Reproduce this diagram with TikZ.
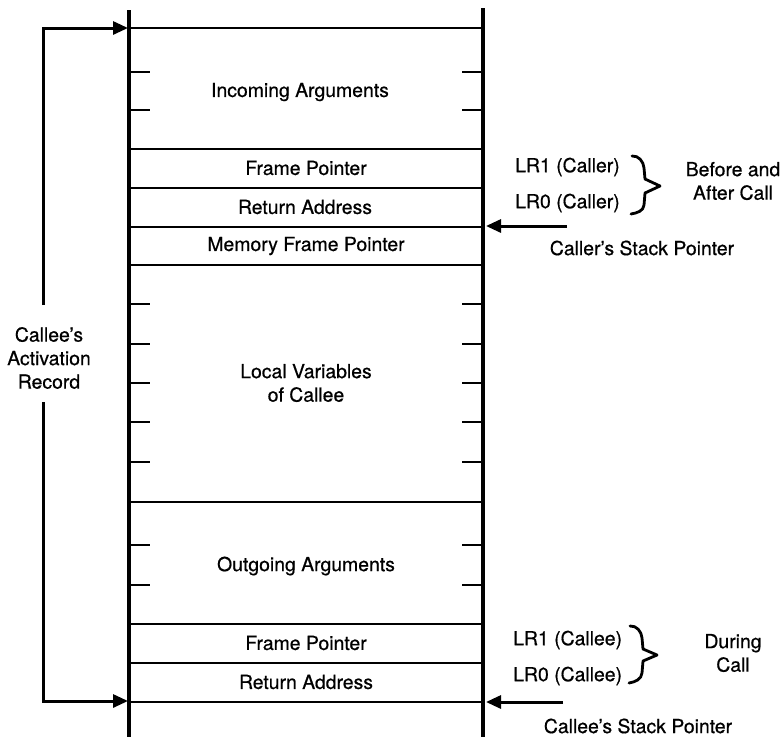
\documentclass[tikz,border=0pt]{standalone}
\usepackage{fontspec}
\setmainfont{TeX Gyre Heros}[FakeBold=0.6]
\usetikzlibrary{arrows.meta}
\begin{document}
\begin{tikzpicture}[x=1pt,y=-1pt,
  wall/.style={line width=3.2pt},
  sep/.style={line width=2.9pt},
  tickmark/.style={line width=2.9pt},
  lbl/.style={font=\fontsize{19.4}{23.5}\selectfont, inner sep=0pt, align=center},
  lblL/.style={font=\fontsize{19.4}{23.5}\selectfont, inner sep=0pt, anchor=west},
  ptr/.style={line width=3pt, -{Triangle[length=15pt,width=13pt]}},
  bracepath/.style={line width=2.8pt, line join=round, line cap=round},
]
\useasboundingbox (0,0) rectangle (783,737);

% stack walls
\coordinate (wallLtop) at (129,10);
\coordinate (wallLbot) at (129,737);
\coordinate (wallRtop) at (483,8);
\coordinate (wallRbot) at (483,737);
\draw[wall] (wallLtop) -- (wallLbot);
\draw[wall] (wallRtop) -- (wallRbot);

% separators
\foreach \yy in {28,149,188,227,265,502,624,663,702}
  \draw[sep] (129,\yy) -- (483,\yy);

% ticks
\foreach \yy in {72,110,304,344,383,422,462,545,585}{
  \draw[tickmark] (129,\yy) -- (150,\yy);
  \draw[tickmark] (462,\yy) -- (483,\yy);
}

% slot labels
\node[lbl] (inargs) at (300,92) {Incoming Arguments};
\node[lbl] (fp1) at (306,168) {Frame Pointer};
\node[lbl] (ra1) at (305,207) {Return Address};
\node[lbl] (mfp) at (306,246) {Memory Frame Pointer};
\node[lbl] (locals) at (306,383) {Local Variables\\of Callee};
\node[lbl] (outargs) at (306,566) {Outgoing Arguments};
\node[lbl] (fp2) at (306,643) {Frame Pointer};
\node[lbl] (ra2) at (306,682) {Return Address};

% activation record bracket
\node[lbl] (rec) at (49,358) {Callee’s\\Activation\\Record};
\coordinate (brkTop) at (43,305);
\coordinate (brkBot) at (43,402);
\coordinate (recTopEnd) at (128,28);
\coordinate (recBotEnd) at (128,701);
\draw[ptr] (brkTop) |- (recTopEnd);
\draw[ptr] (brkBot) |- (recBotEnd);

% caller side
\node[lblL] (lr1a) at (515,167) {LR1 (Caller)};
\node[lblL] (lr0a) at (515,203) {LR0 (Caller)};
\draw[bracepath] (632,156) to[out=5,in=95] (644,168) -- (645,179) -- (660,186) -- (645,193) -- (644,205) to[out=-95,in=10] (631,214);
\node[lbl] (bac) at (733,181) {Before and\\After Call};
\coordinate (callerTail) at (567,226);
\coordinate (callerHead) at (486,226);
\draw[ptr] (callerTail) -- (callerHead);
\node[lbl] (callerSP) at (642,248) {Caller’s Stack Pointer};

% callee side
\node[lblL] (lr1b) at (513,640) {LR1 (Callee)};
\node[lblL] (lr0b) at (513,676) {LR0 (Callee)};
\draw[bracepath] (630,626) to[out=5,in=95] (642,638) -- (643,649) -- (657,655) -- (643,661) -- (642,673) to[out=-95,in=10] (629,683);
\node[lbl] (during) at (733,653) {During\\Call};
\coordinate (calleeTail) at (563,702);
\coordinate (calleeHead) at (486,702);
\draw[ptr] (calleeTail) -- (calleeHead);
\node[lbl] (calleeSP) at (638,726) {Callee’s Stack Pointer};
\end{tikzpicture}
\end{document}
